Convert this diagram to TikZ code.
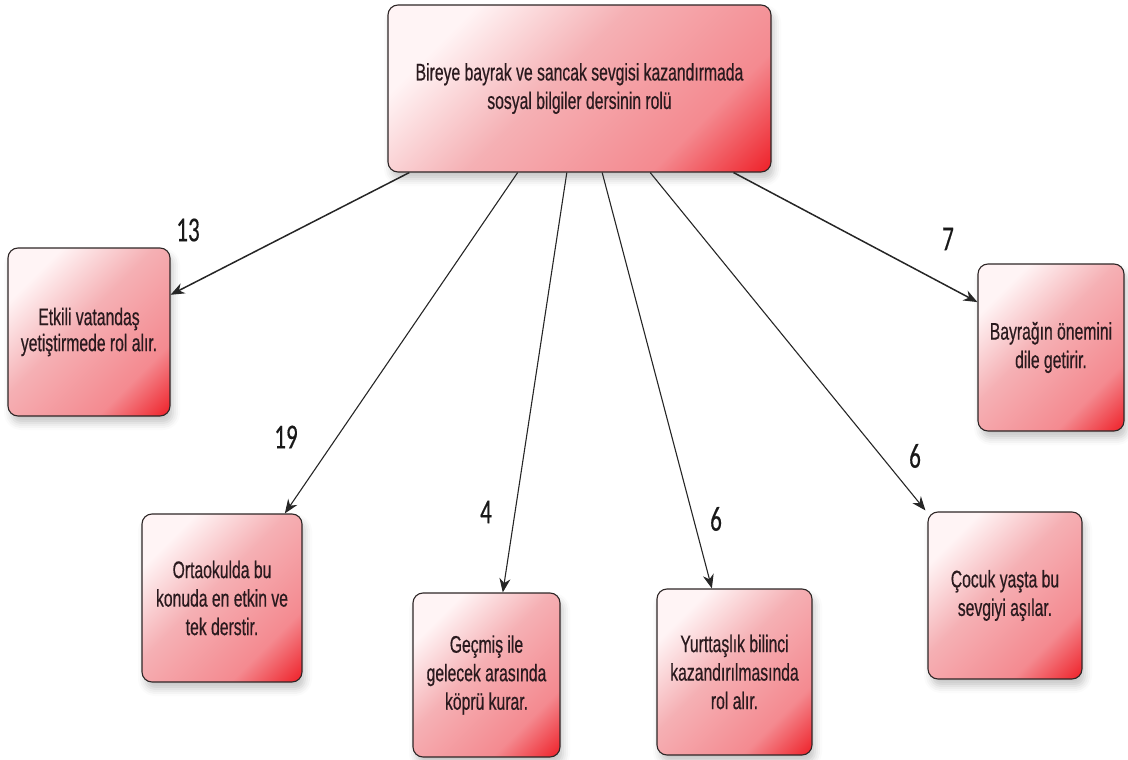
\documentclass[tikz,border=0pt]{standalone}
\usepackage{fontspec}
\setmainfont{Liberation Sans}[FakeStretch=0.655,FakeBold=0.5]
\newfontfamily\numfont{Carlito}[FakeStretch=0.66,FakeBold=0.4]
\usetikzlibrary{arrows.meta,shadows,shadows.blur,calc}
\definecolor{boxedge}{HTML}{2E2626}
\definecolor{boxtext}{HTML}{2A1A1E}
\definecolor{pinkmid}{HTML}{F5B0B4}
\definecolor{pinkdeep}{HTML}{F48A90}
\definecolor{redend}{HTML}{EE1C24}
\definecolor{lightend}{HTML}{FFF4F5}
\pgfdeclarehorizontalshading{cardshade}{100bp}{color(0bp)=(lightend); color(26bp)=(lightend); color(46bp)=(pinkmid); color(70bp)=(pinkdeep); color(86bp)=(redend); color(100bp)=(redend)}
\tikzset{
  card/.style={draw=boxedge, line width=1.1pt, rounded corners=10pt,
    shading=cardshade, shading angle=-45,
    blur shadow={shadow xshift=3pt, shadow yshift=-7pt, shadow blur radius=7pt, shadow opacity=22},
    align=center, inner sep=0pt, text=boxtext,
    font=\fontsize{24}{28.5}\selectfont},
  link/.style={line width=1.1pt, draw=black!85, -{Stealth[length=14pt,width=11pt]}},
  count/.style={font=\numfont\fontsize{35}{35}\selectfont, text=black!90, inner sep=0pt}
}
\begin{document}
\begin{tikzpicture}[x=1pt,y=1pt]
\useasboundingbox (0,0) rectangle (1128,-760);
\node[card, minimum width=383pt, minimum height=167pt] (main) at (579.5,-88.5)
  {Bireye bayrak ve sancak sevgisi kazandırmada\\sosyal bilgiler dersinin rolü};
\node[card, minimum width=162pt, minimum height=168pt, font=\fontsize{24}{26}\selectfont] (n1) at (89,-332)
  {Etkili vatandaş\\yetiştirmede rol alır.};
\node[card, minimum width=160pt, minimum height=168pt] (n2) at (222,-598)
  {Ortaokulda bu\\konuda en etkin ve\\tek derstir.};
\node[card, minimum width=147pt, minimum height=164pt] (n3) at (486.5,-675)
  {Geçmiş ile\\gelecek arasında\\köprü kurar.};
\node[card, minimum width=155pt, minimum height=166pt] (n4) at (734.5,-672)
  {Yurttaşlık bilinci\\kazandırılmasında\\rol alır.};
\node[card, minimum width=154pt, minimum height=167pt] (n5) at (1005,-595.5)
  {Çocuk yaşta bu\\sevgiyi aşılar.};
\node[card, minimum width=146pt, minimum height=167pt] (n6) at (1051,-347.5)
  {Bayrağın önemini\\dile getirir.};

\draw[link, line width=1.5pt] ($(main.south west)!0.057!(main.south east)$) -- ($(n1.north east)!0.28!(n1.south east)$);
\draw[link] ($(main.south west)!0.339!(main.south east)$) -- ($(n2.north west)!0.89!(n2.north east)$);
\draw[link] ($(main.south west)!0.467!(main.south east)$) -- ($(n3.north west)!0.61!(n3.north east)$);
\draw[link] ($(main.south west)!0.559!(main.south east)$) -- ($(n4.north west)!0.355!(n4.north east)$);
\draw[link] ($(main.south west)!0.684!(main.south east)$) -- ($(n5.north west)+(-2,1)$);
\draw[link, line width=1.5pt] ($(main.south west)!0.901!(main.south east)$) -- ($(n6.north west)!0.23!(n6.south west)$);

\node[count] (c1) at (188,-230) {13};
\node[count] (c2) at (286,-437) {19};
\node[count] (c3) at (486,-512) {4};
\node[count] (c4) at (716,-519) {6};
\node[count] (c5) at (915,-456) {6};
\node[count] (c6) at (948,-239) {7};
\end{tikzpicture}
\end{document}
